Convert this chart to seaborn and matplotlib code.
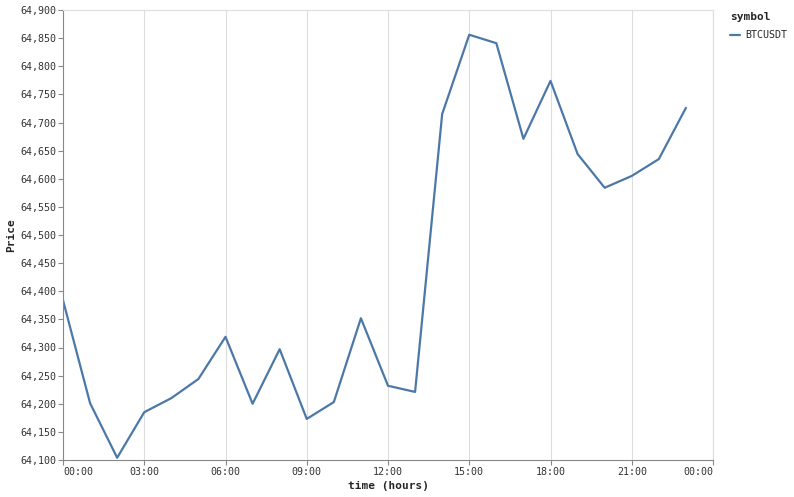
import pandas as pd
import matplotlib.pyplot as plt
import matplotlib.ticker as mticker
import seaborn as sns

# -------------------- DATA --------------------
hours = list(range(24))
prices = [64384, 64201, 64104, 64185, 64210, 64244, 64319, 64200, 64297, 64173,
          64203, 64352, 64232, 64221, 64715, 64856, 64841, 64671, 64774, 64644,
          64584, 64605, 64635, 64726]
symbol = "BTCUSDT"
x_ticks = list(range(0, 25, 3))
x_tick_labels = ["00:00", "03:00", "06:00", "09:00", "12:00", "15:00", "18:00", "21:00", "00:00"]
# ----------------------------------------------

df = pd.DataFrame({"hour": hours, "Price": prices, "symbol": symbol})

sns.set_style("white")
plt.rcParams['font.family'] = ['DejaVu Sans Mono']

fig = plt.figure(figsize=(7.94, 4.97), dpi=100)
ax = fig.add_axes([63 / 794, 37 / 497, 650 / 794, 450 / 497])

sns.lineplot(data=df, x="hour", y="Price", hue="symbol", palette=["#4c78a8"],
             linewidth=1.6, ax=ax)

ax.set_xlim(0, 24)
ax.set_ylim(64100, 64900)
ax.set_xticks(x_ticks)
ax.set_xticklabels(x_tick_labels)
ax.set_yticks(range(64100, 64901, 50))
ax.yaxis.set_major_formatter(mticker.FuncFormatter(lambda v, p: f"{int(v):,}"))

ax.grid(axis='x', color='#dddddd', linewidth=0.8)
ax.grid(axis='y', visible=False)
ax.set_axisbelow(True)

for s in ['top', 'right']:
    ax.spines[s].set_color('#dddddd')
    ax.spines[s].set_linewidth(0.8)
for s in ['left', 'bottom']:
    ax.spines[s].set_color('#888888')
    ax.spines[s].set_linewidth(0.8)

ax.tick_params(axis='both', length=3.6, width=0.8, color='#888888', labelsize=7.2,
               labelcolor='#333333', pad=1.5, direction='out', left=True, bottom=True)

# flush first and last x labels like the reference
xlabels = ax.get_xticklabels()
xlabels[0].set_horizontalalignment('left')
xlabels[-1].set_horizontalalignment('right')

ax.set_xlabel("time (hours)", fontsize=8, fontweight='bold', labelpad=3)
ax.set_ylabel("Price", fontsize=8, fontweight='bold', labelpad=3)

leg = ax.legend(title="symbol", loc='upper left', bbox_to_anchor=(1.02, 1.005),
                frameon=False, fontsize=7.2, title_fontsize=8, handlelength=1.0,
                handletextpad=0.5, borderaxespad=0, labelspacing=0.3)
leg.get_title().set_fontweight('bold')
leg._legend_box.align = "left"
leg._legend_box.sep = 6

fig.savefig("out.png", dpi=100)
